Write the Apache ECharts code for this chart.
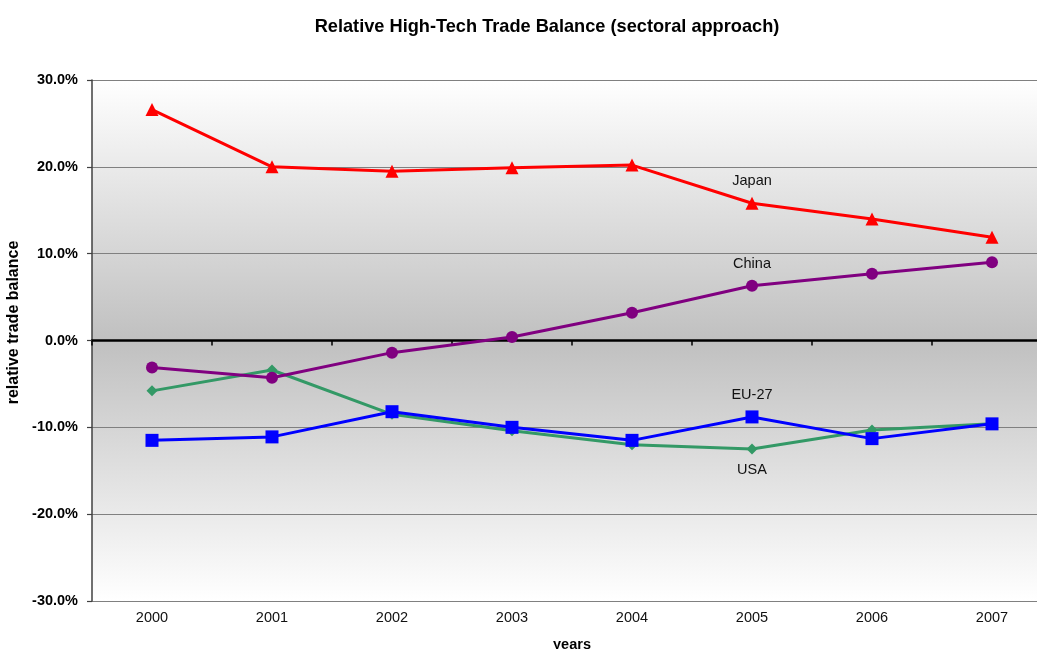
<!DOCTYPE html>
<html>
<head>
<meta charset="utf-8">
<script src="https://cdn.jsdelivr.net/npm/echarts@6/dist/echarts.min.js"></script>
<style>
  html, body { margin: 0; padding: 0; background: #ffffff; }
  #chart { width: 1037px; height: 649px; }
</style>
</head>
<body>
<div id="chart"></div>
<script>
// Relative high-tech trade balance by economy, in percent
const years = ['2000', '2001', '2002', '2003', '2004', '2005', '2006', '2007'];
const japan = [26.6, 20.0, 19.5, 19.9, 20.2, 15.8, 14.0, 11.9];
const china = [-3.1, -4.3, -1.4, 0.4, 3.2, 6.3, 7.7, 9.0];
const eu27 = [-11.5, -11.1, -8.2, -10.0, -11.5, -8.8, -11.3, -9.6];
const usa = [-5.8, -3.4, -8.5, -10.4, -12.0, -12.5, -10.3, -9.6];
const yTicks = { min: -30, max: 30, step: 10 };

const FONT = "'Liberation Sans', Arial, sans-serif";
const LABEL_INDEX = 5; // the series name is written next to the 2005 point

function withNameLabel(values, name, position) {
  return values.map((v, i) => i === LABEL_INDEX
    ? {
        value: v,
        label: {
          show: true, position: position, distance: 8,
          formatter: name, color: '#111', fontSize: 14.5, fontFamily: FONT
        }
      }
    : v);
}

function lineSeries(name, values, color, symbol, size, labelPos) {
  return {
    name: name,
    type: 'line',
    xAxisIndex: 0,
    data: withNameLabel(values, name, labelPos),
    symbol: symbol,
    symbolSize: size,
    itemStyle: { color: color },
    lineStyle: { color: color, width: 3 },
    emphasis: { disabled: true },
    animation: false
  };
}

const chart = echarts.init(document.getElementById('chart'), null, { renderer: 'canvas' });

chart.setOption({
  backgroundColor: '#ffffff',
  title: {
    text: 'Relative High-Tech Trade Balance (sectoral approach)',
    left: 542,
    textAlign: 'center',
    top: 13,
    textStyle: { fontFamily: FONT, fontSize: 18.2, fontWeight: 'bold', color: '#000' }
  },
  grid: {
    left: 92, top: 80, width: 960, height: 521,
    outerBoundsMode: 'none',
    containLabel: false,
    show: true,
    borderWidth: 0,
    backgroundColor: new echarts.graphic.LinearGradient(0, 0, 0, 1, [
      { offset: 0, color: '#ffffff' },
      { offset: 0.5, color: '#c0c0c0' },
      { offset: 1, color: '#ffffff' }
    ])
  },
  xAxis: [
    {
      // category axis drawn along the zero line, with ticks between years
      type: 'category',
      data: years,
      position: 'bottom',
      boundaryGap: true,
      axisLine: { onZero: true, lineStyle: { color: '#000', width: 2.5 } },
      axisTick: { show: true, length: 5, lineStyle: { color: '#000', width: 1.5 } },
      axisLabel: { show: false },
      splitLine: { show: false }
    },
    {
      // year labels and axis title along the bottom edge
      type: 'category',
      data: years,
      position: 'bottom',
      boundaryGap: true,
      name: 'years',
      nameLocation: 'middle',
      nameGap: 36,
      nameTextStyle: { fontFamily: FONT, fontSize: 14.5, fontWeight: 'bold', color: '#000' },
      axisLine: { show: false, onZero: false },
      axisTick: { show: false },
      axisLabel: { margin: 9, fontFamily: FONT, fontSize: 14.5, color: '#111' },
      splitLine: { show: false }
    }
  ],
  yAxis: {
    type: 'value',
    min: yTicks.min, max: yTicks.max, interval: yTicks.step,
    name: 'relative trade balance',
    nameLocation: 'middle',
    nameGap: 67,
    nameTextStyle: {
      fontFamily: FONT, fontSize: 16, fontWeight: 'bold', color: '#000',
      padding: [0, 0, 0, 36]
    },
    axisLine: { show: true, lineStyle: { color: '#404040', width: 1.5 } },
    axisTick: { show: true, length: 5, lineStyle: { color: '#404040', width: 1.2 } },
    axisLabel: {
      margin: 14, fontFamily: FONT, fontSize: 14.5, fontWeight: 'bold', color: '#000',
      formatter: v => v.toFixed(1) + '%'
    },
    splitLine: { show: true, lineStyle: { color: '#808080', width: 1.2 } }
  },
  series: [
    lineSeries('USA', usa, '#339966', 'diamond', 11, 'bottom'),
    lineSeries('EU-27', eu27, '#0000ff', 'rect', 13, 'top'),
    lineSeries('China', china, '#800080', 'circle', 12, 'top'),
    lineSeries('Japan', japan, '#ff0000', 'triangle', 13, 'top')
  ]
});
</script>
</body>
</html>
